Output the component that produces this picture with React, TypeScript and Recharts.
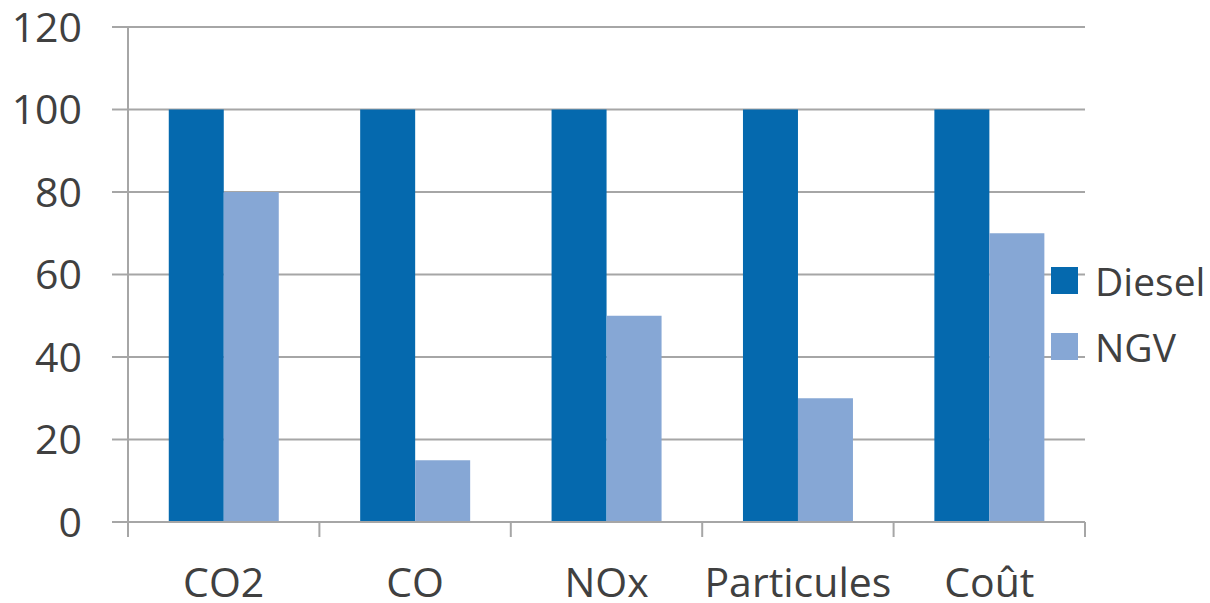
import React from 'react';
import { BarChart, Bar, XAxis, YAxis, CartesianGrid } from 'recharts';

// Emissions relative to diesel (diesel = 100)
const categories = ['CO2', 'CO', 'NOx', 'Particules', 'Coût'];
const dieselValues = [100, 100, 100, 100, 100];
const ngvValues = [80, 15, 50, 30, 70];
const yTicks = [0, 20, 40, 60, 80, 100, 120];

const series = [
  { key: 'Diesel', color: '#0569ae' },
  { key: 'NGV', color: '#86a7d5' },
];

const data = categories.map((name, i) => ({
  name,
  Diesel: dieselValues[i],
  NGV: ngvValues[i],
}));

const FONT = '"Open Sans", "Noto Sans", sans-serif';
const TEXT = '#404040';
const GRID = '#a6a6a6';

// x tick: label at band centre, small tick marks at band edges (Excel style)
const CategoryTick = (props: any) => {
  const { x, y, payload, index, visibleTicksCount } = props;
  const half = payload.offset || 0;
  const isLast = index === (visibleTicksCount ?? categories.length) - 1;
  return (
    <g>
      <line x1={x - half} y1={y} x2={x - half} y2={y + 15} stroke={GRID} strokeWidth={2} />
      {isLast && (
        <line x1={x + half} y1={y} x2={x + half} y2={y + 15} stroke={GRID} strokeWidth={2} />
      )}
      <text
        x={x}
        y={y + 75}
        textAnchor="middle"
        fill={TEXT}
        fontSize={41}
        fontFamily={FONT}
      >
        {payload.value}
      </text>
    </g>
  );
};

export default function App() {
  return (
    <div style={{ position: 'absolute', left: 0, top: 0, width: 1210, height: 603, background: '#fff' }}>
      <BarChart
        width={1210}
        height={603}
        data={data}
        margin={{ top: 27, right: 125, bottom: 0, left: 0 }}
        barCategoryGap="21.3%"
        barGap={0}
      >
        <CartesianGrid vertical={false} stroke={GRID} strokeWidth={2} />
        <XAxis
          dataKey="name"
          height={81}
          tickSize={0}
          tickMargin={0}
          tickLine={false}
          axisLine={{ stroke: GRID, strokeWidth: 2 }}
          tick={<CategoryTick />}
          interval={0}
        />
        <YAxis
          width={128}
          domain={[0, 120]}
          ticks={yTicks}
          tickSize={16}
          tickMargin={30}
          axisLine={{ stroke: GRID, strokeWidth: 2 }}
          tickLine={{ stroke: GRID, strokeWidth: 2 }}
          tick={{ fill: TEXT, fontSize: 41, fontFamily: FONT }}
        />
        {series.map((s) => (
          <Bar key={s.key} dataKey={s.key} fill={s.color} isAnimationActive={false} />
        ))}
      </BarChart>
      {/* legend, overlaid on the right like the Excel original */}
      <div style={{ position: 'absolute', left: 1051, top: 247, fontFamily: FONT }}>
        {series.map((s) => (
          <div key={s.key} style={{ display: 'flex', alignItems: 'center', height: 66 }}>
            <span
              style={{
                display: 'inline-block',
                width: 27,
                height: 27,
                background: s.color,
                marginRight: 17,
              }}
            />
            <span style={{ color: TEXT, fontSize: 39 }}>{s.key}</span>
          </div>
        ))}
      </div>
    </div>
  );
}
